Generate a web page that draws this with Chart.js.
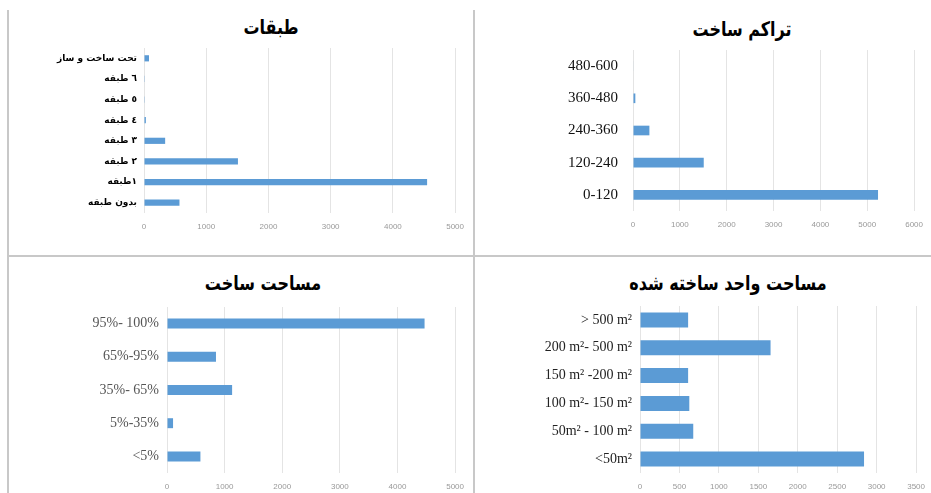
<!DOCTYPE html>
<html>
<head>
<meta charset="utf-8">
<script src="https://cdn.jsdelivr.net/npm/chart.js@4.4.1/dist/chart.umd.min.js"></script>
<style>
  body { margin: 0; width: 931px; height: 493px; background: #fff; position: relative; overflow: hidden; }
  canvas { position: absolute; }
  .title { position: absolute; font-family: 'DejaVu Sans'; font-weight: bold; font-size: 20px; color: #000;
           direction: rtl; white-space: nowrap; transform: translate(-50%, -50%) scaleX(0.8); }
  .rule { position: absolute; background: #c8c8c8; }
</style>
</head>
<body>
<div class="rule" style="left:7px;top:10px;width:2px;height:483px"></div>
<div class="rule" style="left:473px;top:10px;width:2px;height:483px"></div>
<div class="rule" style="left:8px;top:255px;width:923px;height:2px"></div>

<div class="title" style="left:271px;top:27px">طبقات</div>
<div class="title" style="left:742px;top:29px">تراکم ساخت</div>
<div class="title" style="left:263px;top:283px">مساحت ساخت</div>
<div class="title" style="left:728px;top:283px">مساحت واحد ساخته شده</div>

<canvas id="floors"></canvas>
<canvas id="density"></canvas>
<canvas id="coverage"></canvas>
<canvas id="unitArea"></canvas>

<script>
// data
const floorLabels = ['تحت ساخت و ساز', '٦ طبقه', '٥ طبقه', '٤ طبقه', '٣ طبقه', '٢ طبقه', '١طبقه', 'بدون طبقه'];
const floorCounts = [80, 12, 12, 30, 340, 1510, 4550, 570];

const densityLabels = ['480-600', '360-480', '240-360', '120-240', '0-120'];
const densityCounts = [10, 50, 350, 1510, 5230];

const coverageLabels = ['95%- 100%', '65%-95%', '35%- 65%', '5%-35%', '<5%'];
const coverageCounts = [4470, 850, 1130, 105, 580];

const unitAreaLabels = ['> 500 m²', '200 m²- 500 m²', '150 m² -200 m²', '100 m²- 150 m²', '50m² - 100 m²', '<50m²'];
const unitAreaCounts = [610, 1655, 610, 625, 675, 2840];

const BLUE = '#5b9bd5';

function drawPanel(id, labels, values, box) {
    const padTop = 30, padRight = 14, xHeight = 22;
    const canvas = document.getElementById(id);
    const w = (box.right - box.left) + box.yWidth + padRight;
    const h = padTop + (box.bottom - box.top) + xHeight;
    canvas.width = w;
    canvas.height = h;
    canvas.style.left = (box.left - box.yWidth) + 'px';
    canvas.style.top = (box.top - padTop) + 'px';

    return new Chart(canvas.getContext('2d'), {
        type: 'bar',
        data: {
            labels,
            datasets: [{
                data: values,
                backgroundColor: BLUE,
                barPercentage: box.bar,
                categoryPercentage: 1
            }]
        },
        options: {
            indexAxis: 'y',
            responsive: false,
            animation: false,
            layout: { padding: { top: padTop, right: padRight, left: 0, bottom: 0 } },
            plugins: { legend: { display: false }, tooltip: { enabled: false } },
            scales: {
                x: {
                    min: 0,
                    max: box.max,
                    ticks: {
                        stepSize: box.step,
                        autoSkip: false,
                        maxRotation: 0,
                        padding: 9,
                        color: '#999',
                        font: { family: 'Liberation Sans', size: 8 },
                        callback: v => String(v)
                    },
                    grid: { color: '#e4e4e4', drawTicks: false },
                    border: { display: false },
                    afterFit: s => { s.height = xHeight; }
                },
                y: {
                    ticks: {
                        padding: box.gap,
                        color: box.color,
                        font: box.font
                    },
                    grid: { display: false, drawTicks: false },
                    border: { display: false },
                    afterFit: s => { s.width = box.yWidth; }
                }
            }
        }
    });
}

drawPanel('floors', floorLabels, floorCounts, {
    left: 144, right: 459, top: 47.5, bottom: 212.5, yWidth: 120, max: 5000, step: 1000, bar: 0.3, gap: 7,
    color: '#000', font: { family: 'DejaVu Sans', size: 9, weight: 'bold' }
});
drawPanel('density', densityLabels, densityCounts, {
    left: 633, right: 918, top: 50, bottom: 213, yWidth: 120, max: 6000, step: 1000, bar: 0.3, gap: 15,
    color: '#111', font: { family: 'Liberation Serif', size: 15 }
});
drawPanel('coverage', coverageLabels, coverageCounts, {
    left: 167, right: 459, top: 306.5, bottom: 472.5, yWidth: 140, max: 5000, step: 1000, bar: 0.3, gap: 8,
    color: '#555', font: { family: 'Liberation Serif', size: 14 }
});
drawPanel('unitArea', unitAreaLabels, unitAreaCounts, {
    left: 640, right: 920.7, top: 305.5, bottom: 473, yWidth: 150, max: 3500, step: 500, bar: 0.54, gap: 8,
    color: '#222', font: { family: 'Liberation Serif', size: 14 }
});
</script>
</body>
</html>
